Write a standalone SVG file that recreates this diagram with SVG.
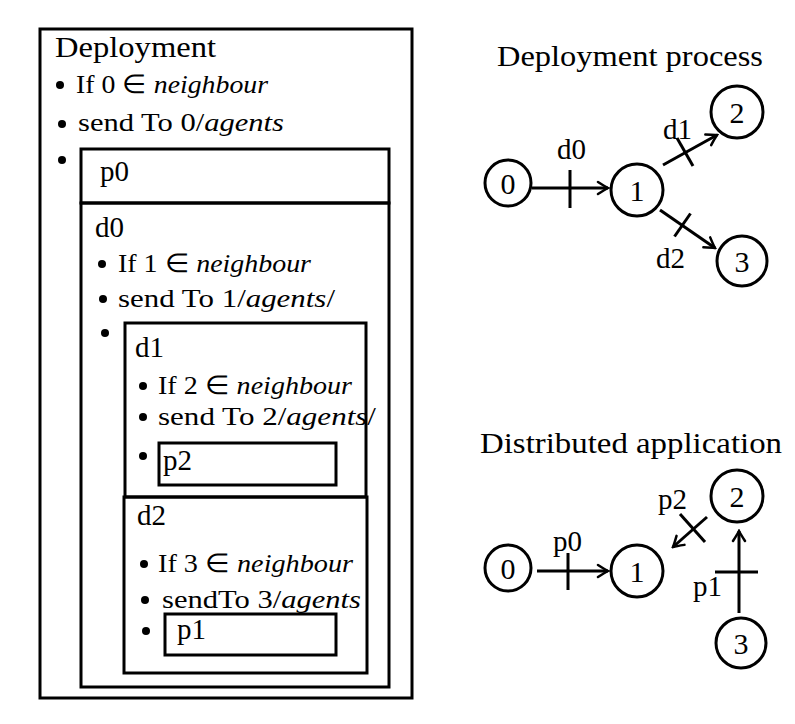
<svg xmlns="http://www.w3.org/2000/svg" width="795" height="724" viewBox="0 0 795 724">
<style>
  text { font-family: "Liberation Serif", "Times New Roman", serif; fill: #000; }
  .h { font-size: 29px; }
  .t { font-size: 26px; }
  .m { font-style: italic; }
  .n { font-size: 30px; text-anchor: middle; }
  .lbl { font-size: 29px; }
  .box { fill: none; stroke: #000; stroke-width: 3; }
  .dot { fill: #000; }
  .node { fill: #fff; stroke: #000; stroke-width: 3; }
  .edge { fill: none; stroke: #000; stroke-width: 3; }
  .tick { fill: none; stroke: #000; stroke-width: 3; }
</style>
<defs>
  <marker id="arr" markerUnits="userSpaceOnUse" viewBox="-12 -8 14 16" markerWidth="14" markerHeight="16" refX="0" refY="0" orient="auto">
    <path d="M -10 -6 Q -3 -1.5 0 0 Q -3 1.5 -10 6" fill="none" stroke="#000" stroke-width="2.5" stroke-linecap="round"/>
  </marker>
</defs>
<rect width="795" height="724" fill="#fff"/>

<g id="deployment-box">
  <rect class="box" x="40" y="29" width="372" height="669"/>
  <text class="h" x="55" y="57" textLength="161" lengthAdjust="spacingAndGlyphs">Deployment</text>
  <circle class="dot" cx="60" cy="85" r="4"/>
  <text class="t" x="76" y="93" textLength="192" lengthAdjust="spacingAndGlyphs">If 0 ∈ <tspan class="m">neighbour</tspan></text>
  <circle class="dot" cx="62" cy="124" r="4"/>
  <text class="t" x="78" y="131" textLength="206" lengthAdjust="spacingAndGlyphs">send To 0/<tspan class="m">agents</tspan></text>
  <circle class="dot" cx="62" cy="160" r="4"/>
</g>

<g id="p0-box">
  <rect class="box" x="81" y="149" width="308" height="54"/>
  <text class="h" x="100" y="181">p0</text>
</g>

<g id="d0-box">
  <rect class="box" x="81" y="203" width="308" height="484"/>
  <text class="h" x="95" y="237">d0</text>
  <circle class="dot" cx="102" cy="264" r="4"/>
  <text class="t" x="118" y="272" textLength="193" lengthAdjust="spacingAndGlyphs">If 1 ∈ <tspan class="m">neighbour</tspan></text>
  <circle class="dot" cx="103" cy="299" r="4"/>
  <text class="t" x="118" y="307" textLength="217" lengthAdjust="spacingAndGlyphs">send To 1/<tspan class="m">agents</tspan>/</text>
  <circle class="dot" cx="105" cy="333" r="4"/>
</g>

<g id="d1-box">
  <rect class="box" x="125" y="323" width="241" height="174"/>
  <text class="h" x="135" y="357">d1</text>
  <circle class="dot" cx="143" cy="386" r="4"/>
  <text class="t" x="158" y="394" textLength="194" lengthAdjust="spacingAndGlyphs">If 2 ∈ <tspan class="m">neighbour</tspan></text>
  <circle class="dot" cx="143" cy="417" r="4"/>
  <text class="t" x="158" y="425" textLength="218" lengthAdjust="spacingAndGlyphs">send To 2/<tspan class="m">agents</tspan>/</text>
  <circle class="dot" cx="143" cy="456" r="4"/>
</g>

<g id="p2-box">
  <rect class="box" x="159" y="443" width="177" height="42"/>
  <text class="h" x="163" y="470">p2</text>
</g>

<g id="d2-box">
  <rect class="box" x="124" y="497" width="243" height="176"/>
  <text class="h" x="137" y="525">d2</text>
  <circle class="dot" cx="144" cy="564" r="4"/>
  <text class="t" x="158" y="572" textLength="195" lengthAdjust="spacingAndGlyphs">If 3 ∈ <tspan class="m">neighbour</tspan></text>
  <circle class="dot" cx="145" cy="600" r="4"/>
  <text class="t" x="162" y="608" textLength="199" lengthAdjust="spacingAndGlyphs">sendTo 3/<tspan class="m">agents</tspan></text>
  <circle class="dot" cx="146" cy="631" r="4"/>
</g>

<g id="p1-box">
  <rect class="box" x="165" y="614" width="171" height="41"/>
  <text class="h" x="177" y="639">p1</text>
</g>

<text class="h" x="497" y="66" textLength="266" lengthAdjust="spacingAndGlyphs">Deployment process</text>
<text class="h" x="480" y="453" textLength="302" lengthAdjust="spacingAndGlyphs">Distributed application</text>

<g id="connectors">
  <line class="edge" x1="532" y1="188" x2="608" y2="188" marker-end="url(#arr)"/>
  <line class="tick" x1="570" y1="170" x2="570" y2="208"/>
  <text class="lbl" x="557" y="159">d0</text>
  <line class="edge" x1="663" y1="165" x2="717" y2="135" marker-end="url(#arr)"/>
  <line class="tick" x1="677" y1="138" x2="693" y2="166"/>
  <text class="lbl" x="663" y="139">d1</text>
  <line class="edge" x1="660" y1="210" x2="715" y2="248" marker-end="url(#arr)"/>
  <line class="tick" x1="690.5" y1="213.5" x2="674.5" y2="236.5"/>
  <text class="lbl" x="656" y="268">d2</text>

  <line class="edge" x1="537" y1="571" x2="608" y2="571" marker-end="url(#arr)"/>
  <line class="tick" x1="568" y1="553" x2="568" y2="590"/>
  <text class="lbl" x="553" y="551">p0</text>
  <line class="edge" x1="707" y1="517" x2="673" y2="547" marker-end="url(#arr)"/>
  <line class="tick" x1="680" y1="514" x2="705" y2="542"/>
  <text class="lbl" x="658" y="509">p2</text>
  <line class="edge" x1="739" y1="613" x2="739" y2="531" marker-end="url(#arr)"/>
  <line class="tick" x1="715" y1="572" x2="758" y2="572"/>
  <text class="lbl" x="693" y="596">p1</text>
</g>

<g id="dp-node-0"><circle class="node" cx="508" cy="183" r="23"/><text class="n" x="508" y="194">0</text></g>
<g id="dp-node-1"><circle class="node" cx="637" cy="190" r="26"/><text class="n" x="637" y="201">1</text></g>
<g id="dp-node-2"><circle class="node" cx="737" cy="112" r="26"/><text class="n" x="737" y="123">2</text></g>
<g id="dp-node-3"><circle class="node" cx="742" cy="261" r="25"/><text class="n" x="742" y="272">3</text></g>

<g id="da-node-0"><circle class="node" cx="508" cy="568" r="23"/><text class="n" x="508" y="579">0</text></g>
<g id="da-node-1"><circle class="node" cx="637" cy="571" r="26"/><text class="n" x="637" y="582">1</text></g>
<g id="da-node-2"><circle class="node" cx="737" cy="496" r="26"/><text class="n" x="737" y="507">2</text></g>
<g id="da-node-3"><circle class="node" cx="741" cy="643" r="25"/><text class="n" x="741" y="654">3</text></g>
</svg>
